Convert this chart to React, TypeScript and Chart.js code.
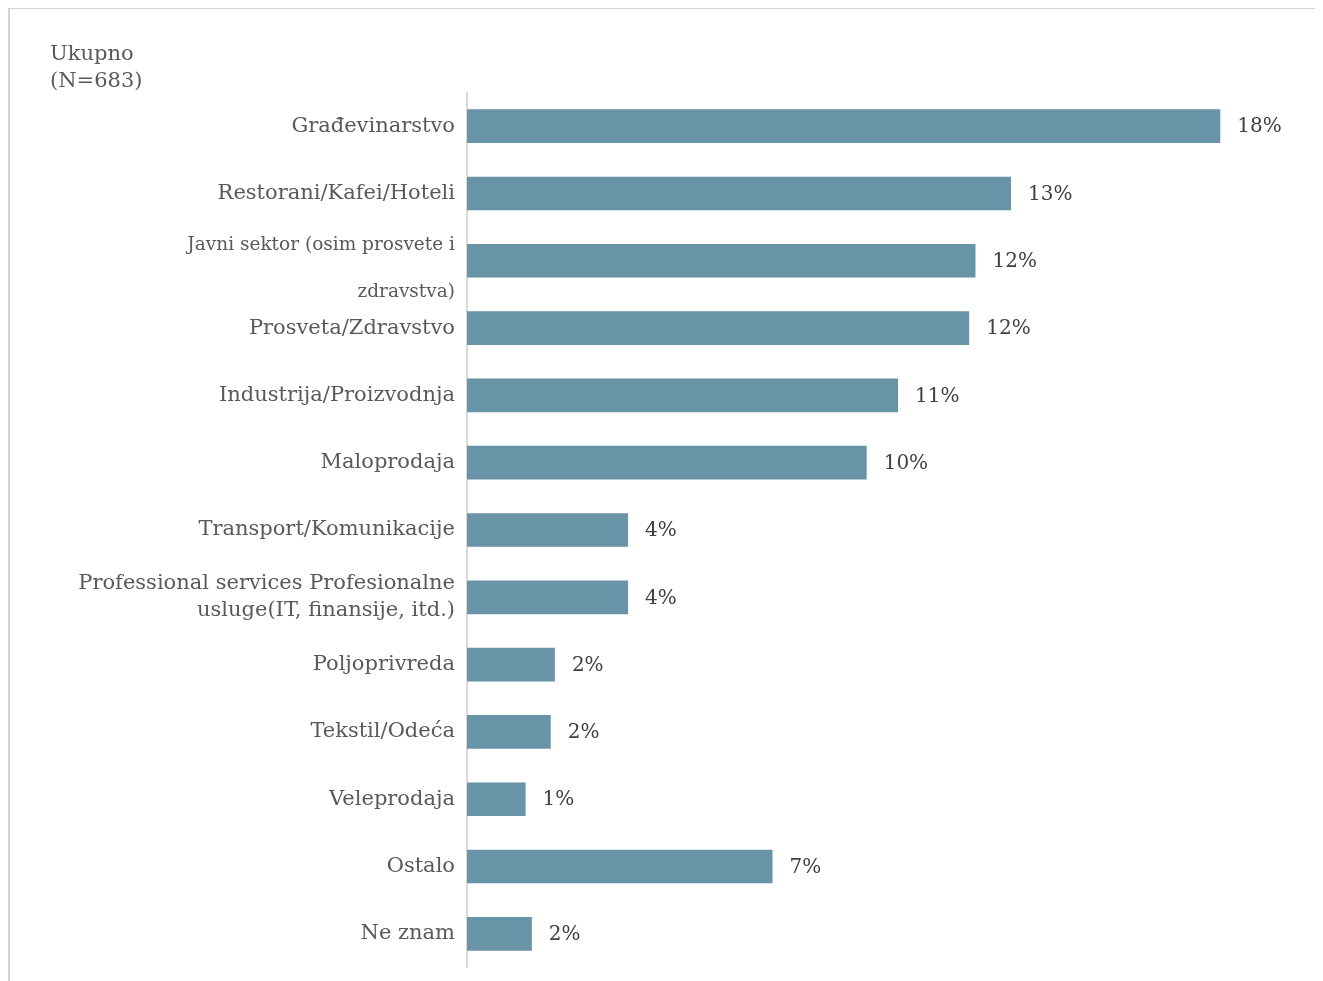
import React, { useEffect, useRef } from 'react';
import { Chart, registerables } from 'chart.js';

Chart.register(...registerables);

const title = ['Ukupno', '(N=683)'];

const categories: (string | string[])[] = [
  'Građevinarstvo',
  'Restorani/Kafei/Hoteli',
  ['', 'Javni sektor (osim prosvete i', '', '', 'zdravstva)'],
  'Prosveta/Zdravstvo',
  'Industrija/Proizvodnja',
  'Maloprodaja',
  'Transport/Komunikacije',
  ['Professional services Profesionalne', 'usluge(IT, finansije, itd.)'],
  'Poljoprivreda',
  'Tekstil/Odeća',
  'Veleprodaja',
  'Ostalo',
  'Ne znam',
];

const values = [18.0, 13.0, 12.15, 12.0, 10.3, 9.55, 3.85, 3.85, 2.1, 2.0, 1.4, 7.3, 1.55];

const valueLabels = ['18%', '13%', '12%', '12%', '11%', '10%', '4%', '4%', '2%', '2%', '1%', '7%', '2%'];

const FONT = '"DejaVu Serif", Georgia, serif';

const valueLabelPlugin = {
  id: 'valueLabels',
  afterDatasetsDraw(chart: any) {
    const { ctx } = chart;
    const meta = chart.getDatasetMeta(0);
    ctx.save();
    ctx.font = `20px ${FONT}`;
    ctx.fillStyle = '#404040';
    ctx.textBaseline = 'middle';
    ctx.textAlign = 'left';
    meta.data.forEach((bar: any, i: number) => {
      ctx.fillText(valueLabels[i], bar.x + 17, bar.y + 1);
    });
    ctx.restore();
  },
};

export default function App() {
  const canvasRef = useRef<HTMLCanvasElement>(null);

  useEffect(() => {
    if (!canvasRef.current) return;
    const chart = new Chart(canvasRef.current, {
      type: 'bar',
      data: {
        labels: categories,
        datasets: [
          {
            data: values,
            backgroundColor: '#6993A6',
            borderWidth: 0,
            categoryPercentage: 0.5,
            barPercentage: 1,
          },
        ],
      },
      options: {
        indexAxis: 'y',
        responsive: false,
        animation: false,
        layout: { padding: { top: 83.5, bottom: 13.5, right: 17, left: 0 } },
        plugins: {
          legend: { display: false },
          tooltip: { enabled: false },
          title: { display: false },
        },
        scales: {
          x: {
            display: false,
            min: 0,
            max: 20,
            grid: { display: false },
          },
          y: {
            grid: { display: false, drawTicks: false },
            border: { display: true, color: '#D9D9D9', width: 2 },
            afterFit: (scale: any) => {
              scale.width = 457;
              scale.paddingTop = 0;
              scale.paddingBottom = 0;
            },
            ticks: {
              autoSkip: false,
              padding: 12,
              color: '#595959',
              font: (ctx: any) => {
                if (ctx.index === 2) return { family: FONT, size: 18.5, lineHeight: '15.7px' };
                return { family: FONT, size: 21, lineHeight: '27px' };
              },
            },
          },
        },
      },
      plugins: [valueLabelPlugin],
    });
    return () => chart.destroy();
  }, []);

  return (
    <>
      <style>{`body{overflow:hidden;}`}</style>
      <div
        style={{
          position: 'relative',
          boxSizing: 'border-box',
          width: 1314,
          height: 974,
          marginTop: -1,
          borderTop: '2px solid #D3D3D3',
          borderLeft: '2px solid #D3D3D3',
          borderRight: '1px solid #E0E0E0',
        }}
      >
        <div
          style={{
            position: 'absolute',
            left: 40,
            top: 31,
            fontFamily: FONT,
            fontSize: 21,
            lineHeight: '27px',
            color: '#595959',
          }}
        >
          {title.map((t) => (
            <div key={t}>{t}</div>
          ))}
        </div>
        <canvas ref={canvasRef} width={1311} height={972} style={{ display: 'block' }} />
      </div>
    </>
  );
}
